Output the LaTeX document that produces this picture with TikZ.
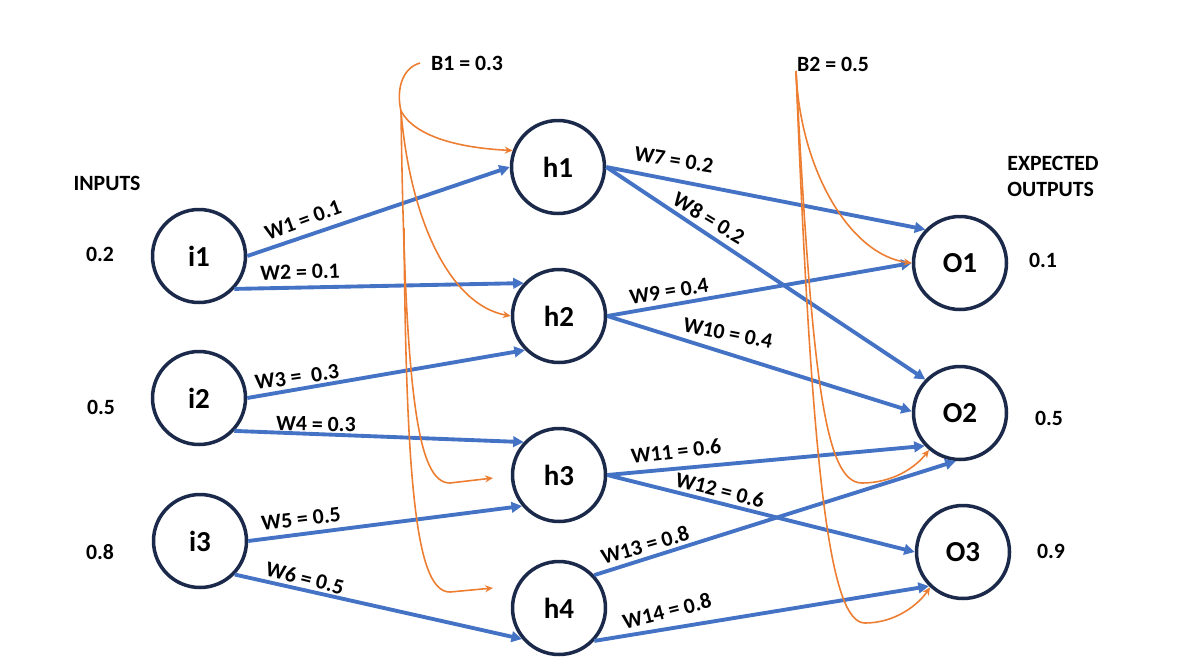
\documentclass[tikz,border=0pt]{standalone}
\usepackage{fontspec}
\setmainfont{Carlito}
\usetikzlibrary{arrows.meta}
\definecolor{wblue}{HTML}{4472C4}
\definecolor{navy}{HTML}{1B2A4A}
\definecolor{borange}{HTML}{ED7D31}
\begin{document}
\begin{tikzpicture}[x=0.02cm,y=-0.02cm,
 neuron/.style={circle,draw=navy,line width=2pt,minimum size=1.86cm,inner sep=0pt,fill=white,font=\fontsize{16.5}{18}\selectfont\bfseries},
 wt/.style={-{Triangle[length=6pt,width=6pt]},draw=wblue,line width=2.2pt},
 bias/.style={-{Stealth[length=4.5pt,width=4pt]},draw=borange,line width=0.9pt},
 biasline/.style={draw=borange,line width=0.9pt},
 lbl/.style={font=\fontsize{12.4}{14}\selectfont\bfseries,inner sep=0pt},
]
\useasboundingbox (0,0) rectangle (1179,666);
% neurons
\node[neuron] (i1) at (199,256) {i1};
\node[neuron] (i2) at (199,398) {i2};
\node[neuron] (i3) at (200,541) {i3};
\node[neuron] (h1) at (558,167) {h1};
\node[neuron] (h2) at (559,316) {h2};
\node[neuron] (h3) at (559,475) {h3};
\node[neuron] (h4) at (559,608) {h4};
\node[neuron] (o1) at (960,263) {O1};
\node[neuron] (o2) at (960,413) {O2};
\node[neuron] (o3) at (963,552) {O3};
% side texts
\node[lbl] (inp) at (107,183) {INPUTS};
\node[lbl] (v1) at (100,254) {0.2};
\node[lbl] (v2) at (101,407) {0.5};
\node[lbl] (v3) at (100,552) {0.8};
\node[lbl,anchor=west] (exp1) at (1007,163) {EXPECTED};
\node[lbl,anchor=west] (exp2) at (1007,189) {OUTPUTS};
\node[lbl] (t1) at (1043,260) {0.1};
\node[lbl] (t2) at (1049,418) {0.5};
\node[lbl] (t3) at (1051,551) {0.9};
\node[lbl] (b1) at (467,63) {B1 = 0.3};
\node[lbl] (b2) at (833,64) {B2 = 0.5};
% weights
\draw[wt] (i1.0) -- (h1.180);
\draw[wt] (i1.-43) -- (h2.137);
\draw[wt] (i2.0) -- (h2.225);
\draw[wt] (i2.-43) -- (h3.137);
\draw[wt] (i3.0) -- (h3.220);
\draw[wt] (i3.-44) -- (h4.220);
\draw[wt] (h1.0) -- (o1.136);
\draw[wt] (h1.0) -- (o2.136);
\draw[wt] (h2.0) -- (o1.180);
\draw[wt] (h2.0) -- (o2.178);
\draw[wt] (h3.0) -- (o2.223);
\draw[wt] (h3.0) -- (o3.180);
\draw[wt] (h4.43) -- (o2.265);
\draw[wt] (h4.-43) -- (o3.225);
% weight labels
\node[lbl,rotate=20] (w1) at (303,220) {W1 = 0.1};
\node[lbl,rotate=2] (w2) at (300,272) {W2 = 0.1};
\node[lbl,rotate=8] (w3) at (297,377) {W3 =\ \ 0.3};
\node[lbl,rotate=-1] (w4) at (316,424) {W4 = 0.3};
\node[lbl,rotate=7] (w5) at (301,519) {W5 = 0.5};
\node[lbl,rotate=-14] (w6) at (305,578) {W6 = 0.5};
\node[lbl,rotate=-9] (w7) at (674,160) {W7 = 0.2};
\node[lbl,rotate=-31] (w8) at (709,218) {W8 = 0.2};
\node[lbl,rotate=9] (w9) at (669,291) {W9 = 0.4};
\node[lbl,rotate=-11] (w10) at (728,333) {W10 = 0.4};
\node[lbl,rotate=7] (w11) at (676,451) {W11 = 0.6};
\node[lbl,rotate=-14] (w12) at (720,490) {W12 = 0.6};
\node[lbl,rotate=16] (w13) at (645,545) {W13 = 0.8};
\node[lbl,rotate=14] (w14) at (667,611) {W14 = 0.8};
% bias 1
\coordinate (b1s) at (420,63);
\coordinate (b1j) at (401,111);
\coordinate (b1k) at (404,228);
\coordinate (h3tip) at (493,478);
\coordinate (h4tip) at (493,588);
\draw[biasline] (b1s) .. controls (402,68) and (396,90) .. (b1j);
\draw[bias] (b1j) .. controls (415,137) and (460,148) .. (h1.160);
\draw[bias] (b1j) .. controls (410,220) and (450,305) .. (h2.180);
\draw[bias] (b1j) .. controls (405,400) and (418,483) .. (450,483) -- (h3tip);
\draw[bias] (b1k) .. controls (406,500) and (418,592) .. (450,592) -- (h4tip);
% bias 2
\coordinate (b2s) at (796,71);
\draw[bias] (b2s) .. controls (800,170) and (850,255) .. (o1.180);
\draw[bias] (b2s) .. controls (812,380) and (825,483) .. (862,483) .. controls (892,483) and (915,468) .. (o2.230);
\draw[bias] (b2s) .. controls (812,480) and (830,623) .. (865,623) .. controls (895,623) and (918,605) .. (o3.227);
\end{tikzpicture}
\end{document}
